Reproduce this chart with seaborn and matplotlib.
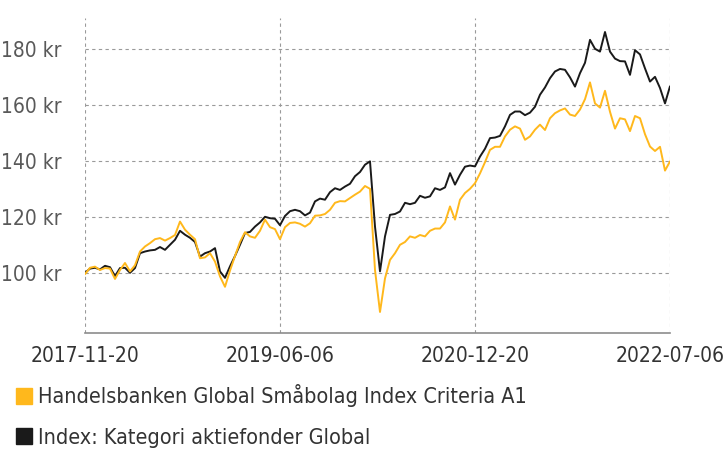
import numpy as np
import pandas as pd
import seaborn as sns
import matplotlib.pyplot as plt
import matplotlib.dates as mdates
from matplotlib import font_manager
from matplotlib.lines import Line2D
from matplotlib.ticker import FuncFormatter

# Series names
fund_name = 'Handelsbanken Global Småbolag Index Criteria A1'
index_name = 'Index: Kategori aktiefonder Global'

# Start / end of the period, values sampled evenly between them
start_date = '2017-11-20'
end_date = '2022-07-06'
tick_dates = ['2017-11-20', '2019-06-06', '2020-12-20', '2022-07-06']

# Values (kr)
fund_values = [
    99.5, 101.8, 102.2, 101.0, 101.7, 101.5, 97.8, 101.0, 103.5, 100.5,
    102.7, 107.6, 109.4, 110.6, 112.0, 112.4, 111.5, 112.4, 113.5, 118.3,
    115.4, 113.6, 112.0, 105.2, 105.5, 107.0, 104.0, 98.7, 95.0, 100.8,
    106.0, 111.0, 114.5, 113.0, 112.5, 115.0, 119.0, 116.3, 115.6, 112.0,
    116.3, 117.8, 118.0, 117.5, 116.5, 117.7, 120.4, 120.5, 121.0, 122.5,
    125.0, 125.6, 125.5, 126.7, 127.9, 129.0, 131.0, 130.0, 101.0, 86.0,
    98.0, 104.6, 107.0, 110.0, 111.0, 113.0, 112.5, 113.5, 113.0, 115.0,
    115.8, 115.8, 118.0, 123.7, 119.0, 126.1, 128.5, 130.0, 132.0, 135.5,
    139.5, 143.9, 145.0, 145.0, 148.7, 151.1, 152.3, 151.5, 147.5, 148.7,
    151.1, 152.9, 151.0, 155.2, 157.0, 158.0, 158.7, 156.5, 156.0, 158.3,
    162.0, 168.0, 160.5, 159.0, 165.0, 157.5, 151.5, 155.2, 154.8, 150.6,
    156.0, 155.2, 149.5, 145.1, 143.5, 145.0, 136.5, 139.8,
]
index_values = [
    100.0, 101.5, 101.8, 101.2, 102.5, 102.0, 98.8, 101.7, 101.8, 100.0,
    101.7, 107.0, 107.6, 108.0, 108.2, 109.2, 108.2, 110.0, 111.8, 115.0,
    113.6, 112.5, 111.0, 105.8, 107.0, 107.6, 108.8, 100.5, 98.2, 102.3,
    106.0, 110.0, 114.2, 114.6, 116.5, 118.0, 120.0, 119.5, 119.3, 117.0,
    120.3, 122.0, 122.5, 122.0, 120.5, 121.5, 125.5, 126.5, 126.1, 128.8,
    130.2, 129.6, 130.8, 131.8, 134.5, 136.0, 138.6, 139.8, 116.5, 100.5,
    113.0, 120.7, 121.0, 121.9, 125.0, 124.5, 125.0, 127.5, 126.8, 127.3,
    130.2, 129.6, 130.5, 135.6, 131.5, 135.0, 137.9, 138.3, 138.0, 141.5,
    144.3, 148.1, 148.3, 148.9, 152.3, 156.4, 157.6, 157.6, 156.3, 157.2,
    159.3, 163.6, 166.2, 169.5, 171.9, 172.8, 172.5, 169.8, 166.5, 171.3,
    175.0, 183.2, 180.0, 179.0, 186.0, 179.0, 176.5, 175.6, 175.5, 170.7,
    179.5, 178.0, 173.0, 168.3, 170.0, 166.0, 160.5, 166.6,
]

fund_color = '#FFB81C'
index_color = '#1A1A1A'

dates = pd.date_range(start_date, end_date, periods=len(fund_values))
df = pd.DataFrame({
    'date': np.concatenate([dates, dates]),
    'value': fund_values + index_values,
    'series': [fund_name] * len(fund_values) + [index_name] * len(index_values),
})

sns.set_style('white')

# pick a narrow font if one is around
names = {f.name for f in font_manager.fontManager.ttflist}
if 'Liberation Sans Narrow' in names:
    plt.rcParams['font.family'] = ['Liberation Sans Narrow', 'DejaVu Sans']
    fsize = 16
else:
    plt.rcParams['font.family'] = ['DejaVu Sans']
    plt.rcParams['font.stretch'] = 'condensed'
    fsize = 15

fig = plt.figure(figsize=(7.25, 4.5), dpi=100)
ax = fig.add_axes([85 / 725, 1 - 333 / 450, 585 / 725, 315 / 450])

# draw index first so fund line sits on top where they overlap
sns.lineplot(data=df, x='date', y='value', hue='series',
             hue_order=[index_name, fund_name],
             palette={fund_name: fund_color, index_name: index_color},
             linewidth=1.4, ax=ax, legend=False)

ax.set_xlim(pd.Timestamp(start_date), pd.Timestamp(end_date))
ax.set_ylim(78.5, 191)
ax.set_yticks([100, 120, 140, 160, 180])
ax.yaxis.set_major_formatter(FuncFormatter(lambda v, p: f'{v:.0f} kr'))
ax.set_xticks(pd.to_datetime(tick_dates))
ax.xaxis.set_major_formatter(mdates.DateFormatter('%Y-%m-%d'))

ax.grid(True, color='#9a9a9a', linestyle=(0, (3, 3)), linewidth=0.8)
for side in ['top', 'right', 'left']:
    ax.spines[side].set_visible(False)
ax.spines['bottom'].set_color('#8c8c8c')
ax.spines['bottom'].set_linewidth(1.2)

ax.tick_params(axis='y', length=0, pad=17, labelsize=fsize, labelcolor='#595959')
ax.tick_params(axis='x', direction='in', length=3, color='#8c8c8c',
               pad=9, labelsize=fsize, labelcolor='#333333')
ax.set_xlabel('')
ax.set_ylabel('')

handles = [
    Line2D([], [], linestyle='none', marker='s', markersize=11,
           markerfacecolor=fund_color, markeredgecolor=fund_color),
    Line2D([], [], linestyle='none', marker='s', markersize=11,
           markerfacecolor=index_color, markeredgecolor=index_color),
]
fig.legend(handles, [fund_name, index_name], loc='upper left',
           bbox_to_anchor=(0.0, 1 - 367 / 450), frameon=False,
           fontsize=fsize + 0.5, labelcolor='#333333', handlelength=0.6,
           handletextpad=0.35, labelspacing=0.95, borderaxespad=0.4)

fig.savefig('out.png', dpi=100)
